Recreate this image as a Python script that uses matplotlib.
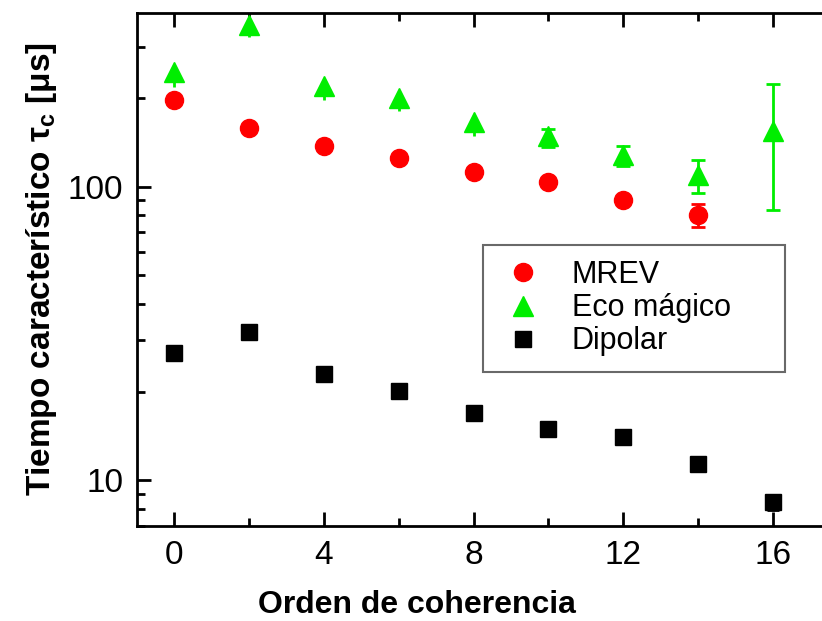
import numpy as np
import matplotlib.pyplot as plt
from matplotlib.ticker import FixedLocator, LogLocator, NullFormatter

# data
orden = [0, 2, 4, 6, 8, 10, 12, 14, 16]

mrev_x = [0, 2, 4, 6, 8, 10, 12, 14]
mrev_y = [197, 158, 138, 125, 112, 104, 90, 80]
mrev_err = [2, 2, 2, 2, 2, 2, 2, 7]

eco_x = [0, 2, 4, 6, 8, 10, 12, 14, 16]
eco_y = [245, 355, 220, 201, 166, 149, 128, 110, 155]
eco_err_lo = [26, 32, 22, 20, 17, 12, 10, 15, 72]
eco_err_hi = [10, 12, 8, 8, 8, 8, 10, 13, 69]
eco_caps = [False, False, False, False, False, True, True, True, True]

dip_x = orden
dip_y = [27.1, 32.1, 23.0, 20.1, 17.0, 15.0, 14.1, 11.4, 8.45]
dip_err = [0.3, 0.3, 0.3, 0.3, 0.3, 0.5, 0.5, 0.5, 0.5]

x_ticks = [0, 4, 8, 12, 16]

plt.rcParams['font.family'] = ['Liberation Sans', 'DejaVu Sans']
plt.rcParams['mathtext.fontset'] = 'custom'
plt.rcParams['mathtext.rm'] = 'Liberation Sans:bold'
plt.rcParams['mathtext.bf'] = 'Liberation Sans:bold'

fig = plt.figure(figsize=(8.22, 6.21), dpi=100)
ax = fig.add_axes([0.1667, 0.153, 0.8333, 0.826])

green = '#00ee00'
h1 = ax.errorbar(mrev_x, mrev_y, yerr=mrev_err, fmt='o', color='#ff0000',
                 markersize=13, elinewidth=2, capsize=5, capthick=2)

# green points: the first ones show only short stubs, later ones have caps
idx_nc = [i for i, c in enumerate(eco_caps) if not c]
idx_c = [i for i, c in enumerate(eco_caps) if c]
h2 = ax.errorbar([eco_x[i] for i in idx_nc], [eco_y[i] for i in idx_nc],
                 yerr=[[eco_err_lo[i] for i in idx_nc], [eco_err_hi[i] for i in idx_nc]],
                 fmt='^', color=green, markersize=14, elinewidth=2, capsize=0)
ax.errorbar([eco_x[i] for i in idx_c], [eco_y[i] for i in idx_c],
            yerr=[[eco_err_lo[i] for i in idx_c], [eco_err_hi[i] for i in idx_c]],
            fmt='^', color=green, markersize=14, elinewidth=2, capsize=5, capthick=2)

h3 = ax.errorbar(dip_x, dip_y, yerr=dip_err, fmt='s', color='#000000',
                 markersize=12, elinewidth=2, capsize=4, capthick=2)

ax.set_yscale('log')
ax.set_xlim(-1.0, 17.32)
ax.set_ylim(7, 390)

ax.xaxis.set_major_locator(FixedLocator(x_ticks))
ax.xaxis.set_minor_locator(FixedLocator([2, 6, 10, 14]))
ax.yaxis.set_minor_locator(LogLocator(base=10, subs=np.arange(2, 10)))
ax.yaxis.set_minor_formatter(NullFormatter())
ax.set_yticks([10, 100])
ax.set_yticklabels(['10', '100'])

ax.tick_params(which='both', direction='in', top=True, right=False, width=2,
               labelsize=24, pad=10)
ax.tick_params(which='major', length=10)
ax.tick_params(which='minor', length=6)

for s in ['left', 'bottom', 'top']:
    ax.spines[s].set_linewidth(2)
ax.spines['right'].set_visible(False)

ax.set_xlabel('Orden de coherencia', fontsize=23, fontweight='bold')
ax.xaxis.set_label_coords(0.409, -0.125)
ax.set_ylabel(r'Tiempo característico τ$_\mathbf{c}$ [μs]', fontsize=24,
              fontweight='bold', labelpad=6)

leg = ax.legend([h1[0], h2[0], h3[0]], ['MREV', 'Eco mágico', 'Dipolar'],
                loc='upper left', bbox_to_anchor=(0.505, 0.0, 0.441, 0.548),
                mode='expand', fontsize=22,
                frameon=True, fancybox=False, edgecolor='#444444',
                handletextpad=0.8, labelspacing=0.1, borderpad=0.5,
                handlelength=1.6, borderaxespad=0)
leg.get_frame().set_linewidth(1.5)

fig.savefig('out.png', dpi=100)
